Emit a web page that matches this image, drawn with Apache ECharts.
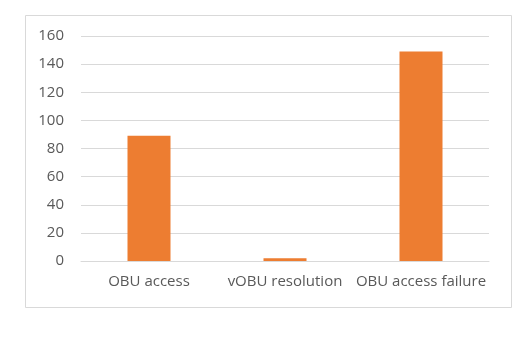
<!DOCTYPE html>
<html><head><meta charset="utf-8">
<script src="https://cdn.jsdelivr.net/npm/echarts@6/dist/echarts.min.js"></script>
<style>html,body{margin:0;padding:0;background:#fff}#c{width:527px;height:348px}</style>
</head><body><div id="c"></div>
<script>
const categories = ["OBU access", "vOBU resolution", "OBU access failure"];
const values = [89, 2, 149];
const yTicks = [0, 20, 40, 60, 80, 100, 120, 140, 160];

const chart = echarts.init(document.getElementById('c'), null, {renderer: 'canvas'});
chart.setOption({
  animation: false,
  backgroundColor: '#fff',
  graphic: [{
    type: 'rect', left: 25, top: 15, z: -1,
    shape: {width: 486, height: 292},
    style: {fill: '#fff', stroke: '#d9d9d9', lineWidth: 1}
  }],
  grid: {left: 81, right: 38, top: 36, bottom: 87, containLabel: false},
  xAxis: {
    type: 'category', data: categories,
    axisLine: {lineStyle: {color: '#d9d9d9'}},
    axisTick: {show: false},
    axisLabel: {color: '#595959', fontSize: 15, fontFamily: 'Open Sans', margin: 13, interval: 0, hideOverlap: false}
  },
  yAxis: {
    type: 'value', min: yTicks[0], max: yTicks[yTicks.length-1], interval: 20,
    axisLine: {show: false}, axisTick: {show: false},
    splitLine: {lineStyle: {color: '#d9d9d9'}},
    axisLabel: {color: '#595959', fontSize: 15, fontFamily: 'Open Sans', margin: 17}
  },
  series: [{
    type: 'bar', data: values, barWidth: 43,
    itemStyle: {color: '#ed7d31'}
  }]
});
</script></body></html>
